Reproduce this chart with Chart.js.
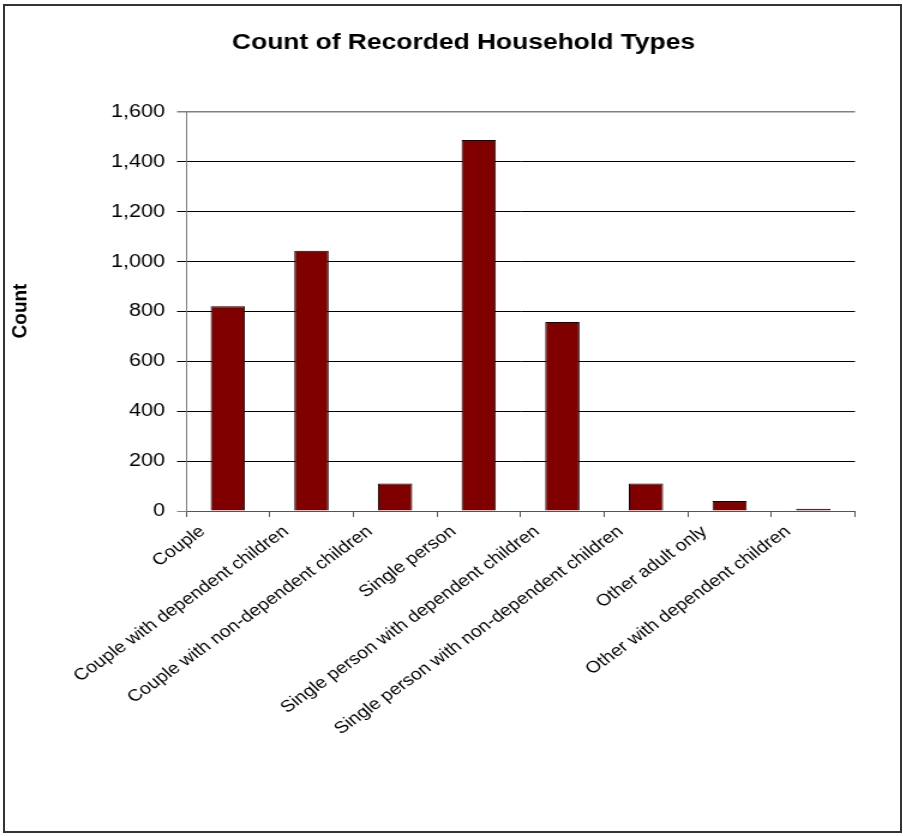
<!DOCTYPE html>
<html>
<head>
<meta charset="utf-8">
<title>Count of Recorded Household Types</title>
<script src="https://cdn.jsdelivr.net/npm/chart.js@4/dist/chart.umd.min.js"></script>
<style>
    html, body { margin: 0; padding: 0; background: #fff; }
    body { width: 903px; height: 836px; position: relative; overflow: hidden; }
    /* the chart is drawn narrower and stretched sideways, like the old wide chart fonts */
    #wrap {
        position: absolute; left: 0; top: 0;
        width: 752px; height: 836px;
        transform: scaleX(1.2); transform-origin: 0 0;
    }
    #frame {
        position: absolute; left: 3px; top: 4px;
        width: 895px; height: 825px;
        border: 2px solid #333;
        pointer-events: none;
    }
</style>
</head>
<body>
<div id="wrap"><canvas id="householdChart" width="752" height="836"></canvas></div>
<div id="frame"></div>

<script>
// ==========================================
// data
// ==========================================
const categories = [
    "Couple",
    "Couple with dependent children",
    "Couple with non-dependent children",
    "Single person",
    "Single person with dependent children",
    "Single person with non-dependent children",
    "Other adult only",
    "Other with dependent children"
];
const counts = [821, 1043, 110, 1487, 758, 110, 40, 9];

const yMax = 1600;
const yStep = 200;

const STRETCH = 1.2; // same as the css scaleX above
const FONT = "'Liberation Sans', Arial, sans-serif";

// y axis title drawn by hand so it is not stretched with the rest
const yTitlePlugin = {
    id: "yTitle",
    afterDraw(chart) {
        const ctx = chart.ctx;
        ctx.save();
        ctx.translate(17.5, 311);
        ctx.scale(1 / STRETCH, 1);
        ctx.rotate(-Math.PI / 2);
        ctx.font = "bold 19px " + FONT;
        ctx.fillStyle = "#000";
        ctx.textAlign = "center";
        ctx.textBaseline = "middle";
        ctx.fillText("Count", 0, 0);
        ctx.restore();
    }
};

const ctx = document.getElementById("householdChart").getContext("2d");

new Chart(ctx, {
    type: "bar",
    data: {
        labels: categories,
        datasets: [{
            label: "Count",
            data: counts,
            backgroundColor: "#800000",
            borderColor: "#000",
            borderWidth: 1,
            barPercentage: 0.41,
            categoryPercentage: 1
        }]
    },
    plugins: [yTitlePlugin],
    options: {
        responsive: false,
        animation: false,
        devicePixelRatio: 1,
        layout: { padding: { left: 60, right: 39.5, top: 0, bottom: 0 } },
        plugins: {
            legend: { display: false },
            tooltip: { enabled: false },
            title: {
                display: true,
                text: "Count of Recorded Household Types",
                color: "#000",
                font: { family: FONT, size: 22, weight: "bold", lineHeight: 1.2 },
                padding: { top: 30, bottom: 55.5 }
            }
        },
        scales: {
            x: {
                grid: {
                    offset: true,
                    drawOnChartArea: false,
                    drawTicks: true,
                    tickLength: 6,
                    color: "#555"
                },
                border: { display: true, color: "#555", width: 1 },
                ticks: {
                    minRotation: 40.5,
                    maxRotation: 40.5,
                    autoSkip: false,
                    padding: 5,
                    labelOffset: -21,
                    color: "#000",
                    font: { family: FONT, size: 16.4 }
                },
                afterFit(scale) { scale.height = 325; }
            },
            y: {
                min: 0,
                max: yMax,
                grid: {
                    tickLength: 7.5,
                    color: (c) => (c.tick && (c.tick.value === yMax || c.tick.value === 0)) ? "#808080" : "#000",
                    lineWidth: (c) => (c.tick && c.tick.value === yMax) ? 1.5 : 1
                },
                border: { display: true, color: "#808080", width: 1 },
                ticks: {
                    stepSize: yStep,
                    padding: 10,
                    color: "#000",
                    font: { family: FONT, size: 18 },
                    callback: (v) => v.toLocaleString("en-US")
                },
                afterFit(scale) { scale.width = 95; }
            }
        }
    }
});
</script>
</body>
</html>
